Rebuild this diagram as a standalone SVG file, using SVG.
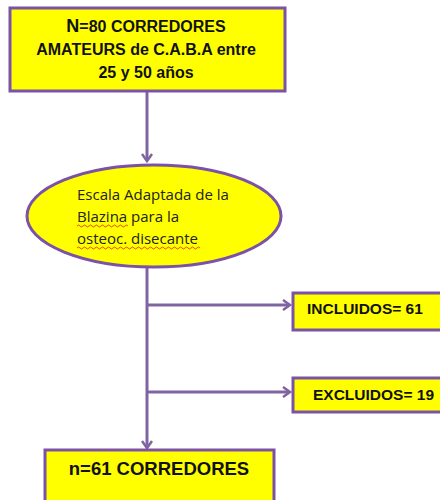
<svg xmlns="http://www.w3.org/2000/svg" width="440" height="500" viewBox="0 0 440 500">
<style>
.box{fill:#FFFF00;stroke:#7B52A6;stroke-width:3}
.ln{fill:none;stroke:#8064A2;stroke-width:3}
.t{font-family:"Liberation Sans",Arial,sans-serif;font-weight:bold;fill:#111}
.e{font-family:"Open Sans","Liberation Sans",sans-serif;font-size:15px;fill:#222}
.sq{fill:none;stroke:#e02020;stroke-width:0.8}
</style>
<defs>
<marker id="arr" markerWidth="12" markerHeight="12" refX="9" refY="6" orient="auto" markerUnits="userSpaceOnUse">
<path d="M2,1 L9,6 L2,11" fill="none" stroke="#8064A2" stroke-width="2.5"/>
</marker>
</defs>
<g id="connectors">
<line class="ln" x1="147" y1="92" x2="147" y2="161" marker-end="url(#arr)"/>
<line class="ln" x1="147" y1="268" x2="147" y2="448" marker-end="url(#arr)"/>
<line class="ln" x1="147" y1="305" x2="290" y2="305" marker-end="url(#arr)"/>
<line class="ln" x1="147" y1="392" x2="290" y2="392" marker-end="url(#arr)"/>
</g>
<g id="top">
<rect class="box" x="10" y="8" width="275" height="83"/>
<text class="t" x="146" y="32" font-size="16" text-anchor="middle"><tspan font-size="18">N</tspan>=80 CORREDORES</text>
<text class="t" x="146" y="55" font-size="16" text-anchor="middle">AMATEURS de C.A.B.A entre</text>
<text class="t" x="146" y="78" font-size="16" text-anchor="middle">25 y 50 años</text>
</g>
<g id="escala">
<ellipse class="box" cx="154" cy="216" rx="127" ry="51" stroke="#8064A2"/>
<text class="e" x="77" y="200">Escala  Adaptada de la</text>
<text class="e" x="77" y="222">Blazina para la</text>
<text class="e" x="77" y="244">osteoc. disecante</text>
<path class="sq" d="M77,226 q1.5,-2 3,0 t3,0 t3,0 t3,0 t3,0 t3,0 t3,0 t3,0 t3,0 t3,0 t3,0 t3,0 t3,0 t3,0 t3,0 t3,0 t3,0"/>
<path class="sq" d="M77,248 q1.5,-2 3,0 t3,0 t3,0 t3,0 t3,0 t3,0 t3,0 t3,0 t3,0 t3,0 t3,0 t3,0 t3,0 t3,0 t3,0 t3,0 t3,0 t3,0 t3,0 t3,0 t3,0 t3,0 t3,0 t3,0 t3,0 t3,0 t3,0 t3,0 t3,0 t3,0 t3,0 t3,0 t3,0 t3,0 t3,0 t3,0 t3,0 t3,0 t3,0 t3,0 t3,0"/>
</g>
<g id="incluidos">
<rect class="box" x="293" y="293" width="160" height="37"/>
<text class="t" x="307" y="314" font-size="15.5">INCLUIDOS= 61</text>
</g>
<g id="excluidos">
<rect class="box" x="293" y="378" width="160" height="34"/>
<text class="t" x="313" y="400" font-size="15.5">EXCLUIDOS= 19</text>
</g>
<g id="bottom">
<rect class="box" x="45" y="450" width="229" height="60"/>
<text class="t" x="159" y="475" font-size="18.5" text-anchor="middle">n=61 CORREDORES</text>
</g>
</svg>
